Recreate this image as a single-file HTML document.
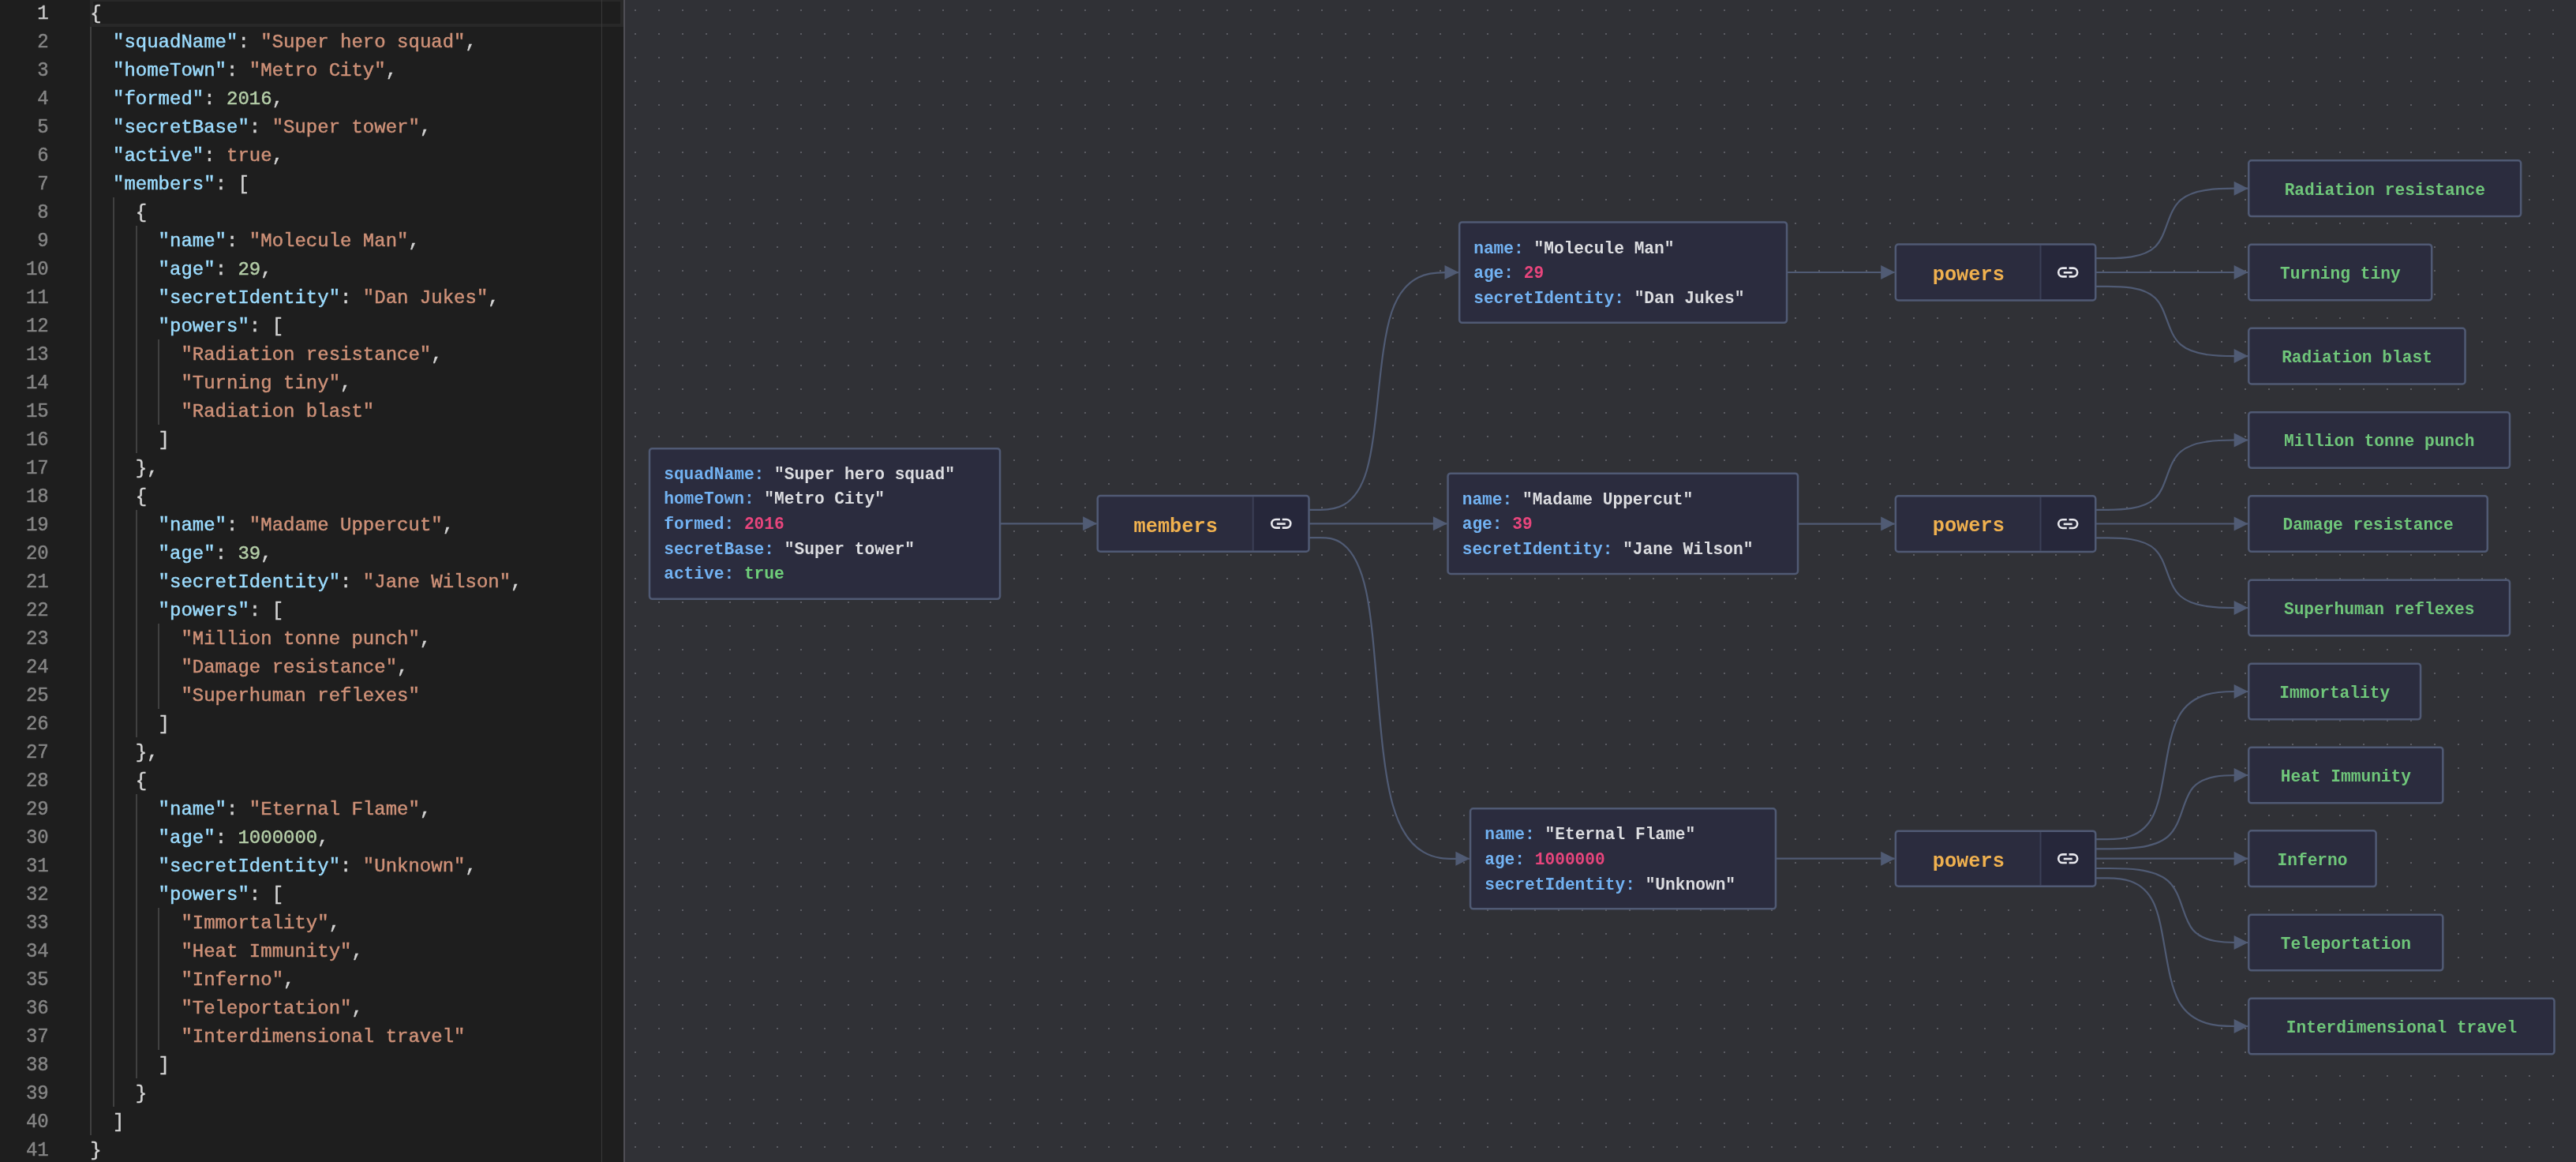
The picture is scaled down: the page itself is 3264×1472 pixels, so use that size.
<!DOCTYPE html>
<html><head><meta charset="utf-8"><style>
html,body{margin:0;padding:0;width:3264px;height:1472px;overflow:hidden;background:#303136}
#ed{will-change:transform;position:absolute;left:0;top:0;width:790px;height:1472px;background:#1e1e1e;overflow:hidden;font-family:"Liberation Mono",monospace;font-size:24px}
.ln{position:absolute;left:0;width:61.7px;-webkit-text-stroke:0.45px currentColor;height:36px;line-height:36px;text-align:right;color:#858585;transform-origin:0 24px;transform:translateY(2.2px) scaleY(1.07)}
.ln.act{color:#c6c6c6}
.cl{position:absolute;left:114.2px;-webkit-text-stroke:0.45px currentColor;height:36px;line-height:36px;white-space:pre;color:#d4d4d4;transform-origin:0 24px;transform:translateY(2.4px) scaleY(1.025)}
.cl .key{color:#9cdcfe} .cl .str{color:#ce9178} .cl .num{color:#b5cea8} .cl .bool{color:#ce9178}
.ig{position:absolute;width:2px;height:36px;background:#404040}
.cur{position:absolute;left:114px;top:-2px;width:676px;height:36px;box-sizing:border-box;border:4px solid #282828}
.vline{position:absolute;left:762px;top:0;width:1px;height:1472px;background:#383838}
#div{position:absolute;left:790px;top:0;width:2px;height:1472px;background:#4f4e55}
#gr{position:absolute;left:792px;top:0;width:2472px;height:1472px;background-color:#303136;
background-image:radial-gradient(circle at 1px 1px,#5a5b62 1px,transparent 1.2px);background-size:30px 30px;background-position:12px 12px}
.edges{position:absolute;left:792px;top:0}
#gt{position:absolute;left:0;top:0;width:3264px;height:1472px;will-change:transform}
.otxt{position:absolute;font-family:"Liberation Mono",monospace;font-size:21.2px;font-weight:bold}
.row{height:31.65px;line-height:31.65px;white-space:pre}
.k{color:#72b2f2} .v{color:#dcdde0} .n{color:#e8457c} .b{color:#6fcf7a}
.plab{position:absolute;width:300px;height:68px;line-height:68px;text-align:center;color:#f0b14f;font-family:"Liberation Mono",monospace;font-weight:bold;font-size:25.3px}
.ltxt{position:absolute;width:600px;height:30px;line-height:30px;text-align:center;color:#6fc67a;white-space:pre;font-family:"Liberation Mono",monospace;font-weight:bold;font-size:21.2px}
</style></head><body>
<div id="ed">
<div class="cur"></div>
<div class="ln act" style="top:-2px">1</div>
<div class="cl" style="top:-2px"><span class="p">{</span></div>
<div class="ln" style="top:34px">2</div>
<div class="cl" style="top:34px">  <span class="key">&quot;squadName&quot;</span><span class="p">:</span><span class="p"> </span><span class="str">&quot;Super hero squad&quot;</span><span class="p">,</span></div>
<div class="ig" style="left:114.0px;top:34px"></div>
<div class="ln" style="top:70px">3</div>
<div class="cl" style="top:70px">  <span class="key">&quot;homeTown&quot;</span><span class="p">:</span><span class="p"> </span><span class="str">&quot;Metro City&quot;</span><span class="p">,</span></div>
<div class="ig" style="left:114.0px;top:70px"></div>
<div class="ln" style="top:106px">4</div>
<div class="cl" style="top:106px">  <span class="key">&quot;formed&quot;</span><span class="p">:</span><span class="p"> </span><span class="num">2016</span><span class="p">,</span></div>
<div class="ig" style="left:114.0px;top:106px"></div>
<div class="ln" style="top:142px">5</div>
<div class="cl" style="top:142px">  <span class="key">&quot;secretBase&quot;</span><span class="p">:</span><span class="p"> </span><span class="str">&quot;Super tower&quot;</span><span class="p">,</span></div>
<div class="ig" style="left:114.0px;top:142px"></div>
<div class="ln" style="top:178px">6</div>
<div class="cl" style="top:178px">  <span class="key">&quot;active&quot;</span><span class="p">:</span><span class="p"> </span><span class="bool">true</span><span class="p">,</span></div>
<div class="ig" style="left:114.0px;top:178px"></div>
<div class="ln" style="top:214px">7</div>
<div class="cl" style="top:214px">  <span class="key">&quot;members&quot;</span><span class="p">:</span><span class="p"> </span><span class="p">[</span></div>
<div class="ig" style="left:114.0px;top:214px"></div>
<div class="ln" style="top:250px">8</div>
<div class="cl" style="top:250px">    <span class="p">{</span></div>
<div class="ig" style="left:114.0px;top:250px"></div>
<div class="ig" style="left:142.8px;top:250px"></div>
<div class="ln" style="top:286px">9</div>
<div class="cl" style="top:286px">      <span class="key">&quot;name&quot;</span><span class="p">:</span><span class="p"> </span><span class="str">&quot;Molecule Man&quot;</span><span class="p">,</span></div>
<div class="ig" style="left:114.0px;top:286px"></div>
<div class="ig" style="left:142.8px;top:286px"></div>
<div class="ig" style="left:171.6px;top:286px"></div>
<div class="ln" style="top:322px">10</div>
<div class="cl" style="top:322px">      <span class="key">&quot;age&quot;</span><span class="p">:</span><span class="p"> </span><span class="num">29</span><span class="p">,</span></div>
<div class="ig" style="left:114.0px;top:322px"></div>
<div class="ig" style="left:142.8px;top:322px"></div>
<div class="ig" style="left:171.6px;top:322px"></div>
<div class="ln" style="top:358px">11</div>
<div class="cl" style="top:358px">      <span class="key">&quot;secretIdentity&quot;</span><span class="p">:</span><span class="p"> </span><span class="str">&quot;Dan Jukes&quot;</span><span class="p">,</span></div>
<div class="ig" style="left:114.0px;top:358px"></div>
<div class="ig" style="left:142.8px;top:358px"></div>
<div class="ig" style="left:171.6px;top:358px"></div>
<div class="ln" style="top:394px">12</div>
<div class="cl" style="top:394px">      <span class="key">&quot;powers&quot;</span><span class="p">:</span><span class="p"> </span><span class="p">[</span></div>
<div class="ig" style="left:114.0px;top:394px"></div>
<div class="ig" style="left:142.8px;top:394px"></div>
<div class="ig" style="left:171.6px;top:394px"></div>
<div class="ln" style="top:430px">13</div>
<div class="cl" style="top:430px">        <span class="str">&quot;Radiation resistance&quot;</span><span class="p">,</span></div>
<div class="ig" style="left:114.0px;top:430px"></div>
<div class="ig" style="left:142.8px;top:430px"></div>
<div class="ig" style="left:171.6px;top:430px"></div>
<div class="ig" style="left:200.4px;top:430px"></div>
<div class="ln" style="top:466px">14</div>
<div class="cl" style="top:466px">        <span class="str">&quot;Turning tiny&quot;</span><span class="p">,</span></div>
<div class="ig" style="left:114.0px;top:466px"></div>
<div class="ig" style="left:142.8px;top:466px"></div>
<div class="ig" style="left:171.6px;top:466px"></div>
<div class="ig" style="left:200.4px;top:466px"></div>
<div class="ln" style="top:502px">15</div>
<div class="cl" style="top:502px">        <span class="str">&quot;Radiation blast&quot;</span></div>
<div class="ig" style="left:114.0px;top:502px"></div>
<div class="ig" style="left:142.8px;top:502px"></div>
<div class="ig" style="left:171.6px;top:502px"></div>
<div class="ig" style="left:200.4px;top:502px"></div>
<div class="ln" style="top:538px">16</div>
<div class="cl" style="top:538px">      <span class="p">]</span></div>
<div class="ig" style="left:114.0px;top:538px"></div>
<div class="ig" style="left:142.8px;top:538px"></div>
<div class="ig" style="left:171.6px;top:538px"></div>
<div class="ln" style="top:574px">17</div>
<div class="cl" style="top:574px">    <span class="p">}</span><span class="p">,</span></div>
<div class="ig" style="left:114.0px;top:574px"></div>
<div class="ig" style="left:142.8px;top:574px"></div>
<div class="ln" style="top:610px">18</div>
<div class="cl" style="top:610px">    <span class="p">{</span></div>
<div class="ig" style="left:114.0px;top:610px"></div>
<div class="ig" style="left:142.8px;top:610px"></div>
<div class="ln" style="top:646px">19</div>
<div class="cl" style="top:646px">      <span class="key">&quot;name&quot;</span><span class="p">:</span><span class="p"> </span><span class="str">&quot;Madame Uppercut&quot;</span><span class="p">,</span></div>
<div class="ig" style="left:114.0px;top:646px"></div>
<div class="ig" style="left:142.8px;top:646px"></div>
<div class="ig" style="left:171.6px;top:646px"></div>
<div class="ln" style="top:682px">20</div>
<div class="cl" style="top:682px">      <span class="key">&quot;age&quot;</span><span class="p">:</span><span class="p"> </span><span class="num">39</span><span class="p">,</span></div>
<div class="ig" style="left:114.0px;top:682px"></div>
<div class="ig" style="left:142.8px;top:682px"></div>
<div class="ig" style="left:171.6px;top:682px"></div>
<div class="ln" style="top:718px">21</div>
<div class="cl" style="top:718px">      <span class="key">&quot;secretIdentity&quot;</span><span class="p">:</span><span class="p"> </span><span class="str">&quot;Jane Wilson&quot;</span><span class="p">,</span></div>
<div class="ig" style="left:114.0px;top:718px"></div>
<div class="ig" style="left:142.8px;top:718px"></div>
<div class="ig" style="left:171.6px;top:718px"></div>
<div class="ln" style="top:754px">22</div>
<div class="cl" style="top:754px">      <span class="key">&quot;powers&quot;</span><span class="p">:</span><span class="p"> </span><span class="p">[</span></div>
<div class="ig" style="left:114.0px;top:754px"></div>
<div class="ig" style="left:142.8px;top:754px"></div>
<div class="ig" style="left:171.6px;top:754px"></div>
<div class="ln" style="top:790px">23</div>
<div class="cl" style="top:790px">        <span class="str">&quot;Million tonne punch&quot;</span><span class="p">,</span></div>
<div class="ig" style="left:114.0px;top:790px"></div>
<div class="ig" style="left:142.8px;top:790px"></div>
<div class="ig" style="left:171.6px;top:790px"></div>
<div class="ig" style="left:200.4px;top:790px"></div>
<div class="ln" style="top:826px">24</div>
<div class="cl" style="top:826px">        <span class="str">&quot;Damage resistance&quot;</span><span class="p">,</span></div>
<div class="ig" style="left:114.0px;top:826px"></div>
<div class="ig" style="left:142.8px;top:826px"></div>
<div class="ig" style="left:171.6px;top:826px"></div>
<div class="ig" style="left:200.4px;top:826px"></div>
<div class="ln" style="top:862px">25</div>
<div class="cl" style="top:862px">        <span class="str">&quot;Superhuman reflexes&quot;</span></div>
<div class="ig" style="left:114.0px;top:862px"></div>
<div class="ig" style="left:142.8px;top:862px"></div>
<div class="ig" style="left:171.6px;top:862px"></div>
<div class="ig" style="left:200.4px;top:862px"></div>
<div class="ln" style="top:898px">26</div>
<div class="cl" style="top:898px">      <span class="p">]</span></div>
<div class="ig" style="left:114.0px;top:898px"></div>
<div class="ig" style="left:142.8px;top:898px"></div>
<div class="ig" style="left:171.6px;top:898px"></div>
<div class="ln" style="top:934px">27</div>
<div class="cl" style="top:934px">    <span class="p">}</span><span class="p">,</span></div>
<div class="ig" style="left:114.0px;top:934px"></div>
<div class="ig" style="left:142.8px;top:934px"></div>
<div class="ln" style="top:970px">28</div>
<div class="cl" style="top:970px">    <span class="p">{</span></div>
<div class="ig" style="left:114.0px;top:970px"></div>
<div class="ig" style="left:142.8px;top:970px"></div>
<div class="ln" style="top:1006px">29</div>
<div class="cl" style="top:1006px">      <span class="key">&quot;name&quot;</span><span class="p">:</span><span class="p"> </span><span class="str">&quot;Eternal Flame&quot;</span><span class="p">,</span></div>
<div class="ig" style="left:114.0px;top:1006px"></div>
<div class="ig" style="left:142.8px;top:1006px"></div>
<div class="ig" style="left:171.6px;top:1006px"></div>
<div class="ln" style="top:1042px">30</div>
<div class="cl" style="top:1042px">      <span class="key">&quot;age&quot;</span><span class="p">:</span><span class="p"> </span><span class="num">1000000</span><span class="p">,</span></div>
<div class="ig" style="left:114.0px;top:1042px"></div>
<div class="ig" style="left:142.8px;top:1042px"></div>
<div class="ig" style="left:171.6px;top:1042px"></div>
<div class="ln" style="top:1078px">31</div>
<div class="cl" style="top:1078px">      <span class="key">&quot;secretIdentity&quot;</span><span class="p">:</span><span class="p"> </span><span class="str">&quot;Unknown&quot;</span><span class="p">,</span></div>
<div class="ig" style="left:114.0px;top:1078px"></div>
<div class="ig" style="left:142.8px;top:1078px"></div>
<div class="ig" style="left:171.6px;top:1078px"></div>
<div class="ln" style="top:1114px">32</div>
<div class="cl" style="top:1114px">      <span class="key">&quot;powers&quot;</span><span class="p">:</span><span class="p"> </span><span class="p">[</span></div>
<div class="ig" style="left:114.0px;top:1114px"></div>
<div class="ig" style="left:142.8px;top:1114px"></div>
<div class="ig" style="left:171.6px;top:1114px"></div>
<div class="ln" style="top:1150px">33</div>
<div class="cl" style="top:1150px">        <span class="str">&quot;Immortality&quot;</span><span class="p">,</span></div>
<div class="ig" style="left:114.0px;top:1150px"></div>
<div class="ig" style="left:142.8px;top:1150px"></div>
<div class="ig" style="left:171.6px;top:1150px"></div>
<div class="ig" style="left:200.4px;top:1150px"></div>
<div class="ln" style="top:1186px">34</div>
<div class="cl" style="top:1186px">        <span class="str">&quot;Heat Immunity&quot;</span><span class="p">,</span></div>
<div class="ig" style="left:114.0px;top:1186px"></div>
<div class="ig" style="left:142.8px;top:1186px"></div>
<div class="ig" style="left:171.6px;top:1186px"></div>
<div class="ig" style="left:200.4px;top:1186px"></div>
<div class="ln" style="top:1222px">35</div>
<div class="cl" style="top:1222px">        <span class="str">&quot;Inferno&quot;</span><span class="p">,</span></div>
<div class="ig" style="left:114.0px;top:1222px"></div>
<div class="ig" style="left:142.8px;top:1222px"></div>
<div class="ig" style="left:171.6px;top:1222px"></div>
<div class="ig" style="left:200.4px;top:1222px"></div>
<div class="ln" style="top:1258px">36</div>
<div class="cl" style="top:1258px">        <span class="str">&quot;Teleportation&quot;</span><span class="p">,</span></div>
<div class="ig" style="left:114.0px;top:1258px"></div>
<div class="ig" style="left:142.8px;top:1258px"></div>
<div class="ig" style="left:171.6px;top:1258px"></div>
<div class="ig" style="left:200.4px;top:1258px"></div>
<div class="ln" style="top:1294px">37</div>
<div class="cl" style="top:1294px">        <span class="str">&quot;Interdimensional travel&quot;</span></div>
<div class="ig" style="left:114.0px;top:1294px"></div>
<div class="ig" style="left:142.8px;top:1294px"></div>
<div class="ig" style="left:171.6px;top:1294px"></div>
<div class="ig" style="left:200.4px;top:1294px"></div>
<div class="ln" style="top:1330px">38</div>
<div class="cl" style="top:1330px">      <span class="p">]</span></div>
<div class="ig" style="left:114.0px;top:1330px"></div>
<div class="ig" style="left:142.8px;top:1330px"></div>
<div class="ig" style="left:171.6px;top:1330px"></div>
<div class="ln" style="top:1366px">39</div>
<div class="cl" style="top:1366px">    <span class="p">}</span></div>
<div class="ig" style="left:114.0px;top:1366px"></div>
<div class="ig" style="left:142.8px;top:1366px"></div>
<div class="ln" style="top:1402px">40</div>
<div class="cl" style="top:1402px">  <span class="p">]</span></div>
<div class="ig" style="left:114.0px;top:1402px"></div>
<div class="ln" style="top:1438px">41</div>
<div class="cl" style="top:1438px"><span class="p">}</span></div>
<div class="vline"></div>
</div>
<div id="div"></div>
<div id="gr"></div>
<svg class="edges" width="2472" height="1472" viewBox="792 0 2472 1472"><g fill="none" stroke="#505b74" stroke-width="2.2"><path d="M1267.00 663.30 L1389.50 663.30"/><path d="M1658.50 645.80 L1673.17 645.80 C1687.83 645.80 1717.17 645.80 1731.83 595.69 C1746.50 545.58 1746.50 445.37 1763.40 395.26 C1780.30 345.15 1814.10 345.15 1831.00 345.15 L1847.90 345.15"/><path d="M1658.50 663.30 L1833.30 663.30"/><path d="M1658.50 681.10 L1673.00 681.10 C1687.50 681.10 1716.50 681.10 1731.00 748.89 C1745.50 816.68 1745.50 952.27 1764.88 1020.06 C1784.27 1087.85 1823.03 1087.85 1842.42 1087.85 L1861.80 1087.85"/><path d="M2264.30 345.00 L2400.60 345.00"/><path d="M2278.30 663.60 L2400.60 663.60"/><path d="M2250.20 1087.70 L2400.60 1087.70"/><path d="M2655.30 327.20 L2670.42 327.20 C2685.53 327.20 2715.77 327.20 2730.88 312.45 C2746.00 297.70 2746.00 268.20 2763.00 253.45 C2780.00 238.70 2814.00 238.70 2831.00 238.70 L2848.00 238.70"/><path d="M2655.30 345.00 L2848.00 345.00"/><path d="M2655.30 362.80 L2670.42 362.80 C2685.53 362.80 2715.77 362.80 2730.88 377.52 C2746.00 392.23 2746.00 421.67 2763.00 436.38 C2780.00 451.10 2814.00 451.10 2831.00 451.10 L2848.00 451.10"/><path d="M2655.30 645.80 L2670.42 645.80 C2685.53 645.80 2715.77 645.80 2730.88 631.08 C2746.00 616.37 2746.00 586.93 2763.00 572.22 C2780.00 557.50 2814.00 557.50 2831.00 557.50 L2848.00 557.50"/><path d="M2655.30 663.50 L2848.00 663.50"/><path d="M2655.30 681.40 L2670.42 681.40 C2685.53 681.40 2715.77 681.40 2730.88 696.17 C2746.00 710.93 2746.00 740.47 2763.00 755.23 C2780.00 770.00 2814.00 770.00 2831.00 770.00 L2848.00 770.00"/><path d="M2655.30 1063.10 L2670.00 1063.10 C2684.70 1063.10 2714.10 1063.10 2728.80 1031.92 C2743.50 1000.73 2743.50 938.37 2760.92 907.18 C2778.33 876.00 2813.17 876.00 2830.58 876.00 L2848.00 876.00"/><path d="M2655.30 1075.40 L2673.58 1075.40 C2691.87 1075.40 2728.43 1075.40 2746.72 1059.83 C2765.00 1044.27 2765.00 1013.13 2778.83 997.57 C2792.67 982.00 2820.33 982.00 2834.17 982.00 L2848.00 982.00"/><path d="M2655.30 1087.70 L2848.00 1087.70"/><path d="M2655.30 1100.00 L2673.58 1100.00 C2691.87 1100.00 2728.43 1100.00 2746.72 1115.67 C2765.00 1131.33 2765.00 1162.67 2778.83 1178.33 C2792.67 1194.00 2820.33 1194.00 2834.17 1194.00 L2848.00 1194.00"/><path d="M2655.30 1112.30 L2670.00 1112.30 C2684.70 1112.30 2714.10 1112.30 2728.80 1143.58 C2743.50 1174.87 2743.50 1237.43 2760.92 1268.72 C2778.33 1300.00 2813.17 1300.00 2830.58 1300.00 L2848.00 1300.00"/></g><g fill="#505b74"><path d="M1372.1 654.3 L1390.1 663.3 L1372.1 672.3 Z"/><path d="M1830.5 336.1 L1848.5 345.1 L1830.5 354.1 Z"/><path d="M1815.9 654.3 L1833.9 663.3 L1815.9 672.3 Z"/><path d="M1844.4 1078.8 L1862.4 1087.8 L1844.4 1096.8 Z"/><path d="M2383.2 336.0 L2401.2 345.0 L2383.2 354.0 Z"/><path d="M2383.2 654.6 L2401.2 663.6 L2383.2 672.6 Z"/><path d="M2383.2 1078.7 L2401.2 1087.7 L2383.2 1096.7 Z"/><path d="M2830.6 229.7 L2848.6 238.7 L2830.6 247.7 Z"/><path d="M2830.6 336.0 L2848.6 345.0 L2830.6 354.0 Z"/><path d="M2830.6 442.1 L2848.6 451.1 L2830.6 460.1 Z"/><path d="M2830.6 548.5 L2848.6 557.5 L2830.6 566.5 Z"/><path d="M2830.6 654.5 L2848.6 663.5 L2830.6 672.5 Z"/><path d="M2830.6 761.0 L2848.6 770.0 L2830.6 779.0 Z"/><path d="M2830.6 867.0 L2848.6 876.0 L2830.6 885.0 Z"/><path d="M2830.6 973.0 L2848.6 982.0 L2830.6 991.0 Z"/><path d="M2830.6 1078.7 L2848.6 1087.7 L2830.6 1096.7 Z"/><path d="M2830.6 1185.0 L2848.6 1194.0 L2830.6 1203.0 Z"/><path d="M2830.6 1291.0 L2848.6 1300.0 L2830.6 1309.0 Z"/></g><rect x="822.95" y="568.15" width="444.10" height="190.70" rx="3.5" fill="#2b2c3e"/><rect x="822.95" y="568.15" width="444.10" height="190.70" rx="3.5" fill="none" stroke="#505a74" stroke-width="2.5"/><rect x="1390.75" y="628.05" width="267.80" height="70.70" rx="3.5" fill="#2b2c3e"/><rect x="1587.70" y="629.30" width="69.60" height="68.20" fill="#26273a"/><line x1="1587.70" y1="629.30" x2="1587.70" y2="697.50" stroke="#3b3f56" stroke-width="2"/><g transform="translate(1623.3 663.3)" fill="none" stroke="#e9e9ee" stroke-width="2.6"><path d="M-1.4 -5.35 H-6.65 A5.35 5.35 0 0 0 -6.65 5.35 H-1.4 M1.4 -5.35 H6.65 A5.35 5.35 0 0 1 6.65 5.35 H1.4"/><path d="M-5.5 0.3 H5.5"/></g><rect x="1390.75" y="628.05" width="267.80" height="70.70" rx="3.5" fill="none" stroke="#505a74" stroke-width="2.5"/><rect x="1849.15" y="281.45" width="414.90" height="127.40" rx="3.5" fill="#2b2c3e"/><rect x="1849.15" y="281.45" width="414.90" height="127.40" rx="3.5" fill="none" stroke="#505a74" stroke-width="2.5"/><rect x="1834.55" y="599.65" width="443.50" height="127.30" rx="3.5" fill="#2b2c3e"/><rect x="1834.55" y="599.65" width="443.50" height="127.30" rx="3.5" fill="none" stroke="#505a74" stroke-width="2.5"/><rect x="1863.05" y="1024.35" width="386.90" height="127.00" rx="3.5" fill="#2b2c3e"/><rect x="1863.05" y="1024.35" width="386.90" height="127.00" rx="3.5" fill="none" stroke="#505a74" stroke-width="2.5"/><rect x="2401.85" y="309.55" width="253.40" height="70.90" rx="3.5" fill="#2b2c3e"/><rect x="2585.50" y="310.80" width="68.50" height="68.40" fill="#26273a"/><line x1="2585.50" y1="310.80" x2="2585.50" y2="379.20" stroke="#3b3f56" stroke-width="2"/><g transform="translate(2620.2 345.0)" fill="none" stroke="#e9e9ee" stroke-width="2.6"><path d="M-1.4 -5.35 H-6.65 A5.35 5.35 0 0 0 -6.65 5.35 H-1.4 M1.4 -5.35 H6.65 A5.35 5.35 0 0 1 6.65 5.35 H1.4"/><path d="M-5.5 0.3 H5.5"/></g><rect x="2401.85" y="309.55" width="253.40" height="70.90" rx="3.5" fill="none" stroke="#505a74" stroke-width="2.5"/><rect x="2401.85" y="628.25" width="253.40" height="70.70" rx="3.5" fill="#2b2c3e"/><rect x="2585.50" y="629.50" width="68.50" height="68.20" fill="#26273a"/><line x1="2585.50" y1="629.50" x2="2585.50" y2="697.70" stroke="#3b3f56" stroke-width="2"/><g transform="translate(2620.2 663.6)" fill="none" stroke="#e9e9ee" stroke-width="2.6"><path d="M-1.4 -5.35 H-6.65 A5.35 5.35 0 0 0 -6.65 5.35 H-1.4 M1.4 -5.35 H6.65 A5.35 5.35 0 0 1 6.65 5.35 H1.4"/><path d="M-5.5 0.3 H5.5"/></g><rect x="2401.85" y="628.25" width="253.40" height="70.70" rx="3.5" fill="none" stroke="#505a74" stroke-width="2.5"/><rect x="2401.85" y="1052.65" width="253.40" height="70.10" rx="3.5" fill="#2b2c3e"/><rect x="2585.50" y="1053.90" width="68.50" height="67.60" fill="#26273a"/><line x1="2585.50" y1="1053.90" x2="2585.50" y2="1121.50" stroke="#3b3f56" stroke-width="2"/><g transform="translate(2620.2 1087.7)" fill="none" stroke="#e9e9ee" stroke-width="2.6"><path d="M-1.4 -5.35 H-6.65 A5.35 5.35 0 0 0 -6.65 5.35 H-1.4 M1.4 -5.35 H6.65 A5.35 5.35 0 0 1 6.65 5.35 H1.4"/><path d="M-5.5 0.3 H5.5"/></g><rect x="2401.85" y="1052.65" width="253.40" height="70.10" rx="3.5" fill="none" stroke="#505a74" stroke-width="2.5"/><rect x="2849.25" y="203.35" width="344.90" height="70.70" rx="3.5" fill="#2b2c3e"/><rect x="2849.25" y="203.35" width="344.90" height="70.70" rx="3.5" fill="none" stroke="#505a74" stroke-width="2.5"/><rect x="2849.25" y="309.65" width="231.94" height="70.70" rx="3.5" fill="#2b2c3e"/><rect x="2849.25" y="309.65" width="231.94" height="70.70" rx="3.5" fill="none" stroke="#505a74" stroke-width="2.5"/><rect x="2849.25" y="415.75" width="274.30" height="70.70" rx="3.5" fill="#2b2c3e"/><rect x="2849.25" y="415.75" width="274.30" height="70.70" rx="3.5" fill="none" stroke="#505a74" stroke-width="2.5"/><rect x="2849.25" y="522.15" width="330.78" height="70.70" rx="3.5" fill="#2b2c3e"/><rect x="2849.25" y="522.15" width="330.78" height="70.70" rx="3.5" fill="none" stroke="#505a74" stroke-width="2.5"/><rect x="2849.25" y="628.15" width="302.54" height="70.70" rx="3.5" fill="#2b2c3e"/><rect x="2849.25" y="628.15" width="302.54" height="70.70" rx="3.5" fill="none" stroke="#505a74" stroke-width="2.5"/><rect x="2849.25" y="734.65" width="330.78" height="70.70" rx="3.5" fill="#2b2c3e"/><rect x="2849.25" y="734.65" width="330.78" height="70.70" rx="3.5" fill="none" stroke="#505a74" stroke-width="2.5"/><rect x="2849.25" y="840.65" width="217.82" height="70.70" rx="3.5" fill="#2b2c3e"/><rect x="2849.25" y="840.65" width="217.82" height="70.70" rx="3.5" fill="none" stroke="#505a74" stroke-width="2.5"/><rect x="2849.25" y="946.65" width="246.06" height="70.70" rx="3.5" fill="#2b2c3e"/><rect x="2849.25" y="946.65" width="246.06" height="70.70" rx="3.5" fill="none" stroke="#505a74" stroke-width="2.5"/><rect x="2849.25" y="1052.35" width="161.34" height="70.70" rx="3.5" fill="#2b2c3e"/><rect x="2849.25" y="1052.35" width="161.34" height="70.70" rx="3.5" fill="none" stroke="#505a74" stroke-width="2.5"/><rect x="2849.25" y="1158.65" width="246.06" height="70.70" rx="3.5" fill="#2b2c3e"/><rect x="2849.25" y="1158.65" width="246.06" height="70.70" rx="3.5" fill="none" stroke="#505a74" stroke-width="2.5"/><rect x="2849.25" y="1264.65" width="387.26" height="70.70" rx="3.5" fill="#2b2c3e"/><rect x="2849.25" y="1264.65" width="387.26" height="70.70" rx="3.5" fill="none" stroke="#505a74" stroke-width="2.5"/></svg>
<div id="gt"><div class="otxt" style="left:841.2px;top:585.85px"><div class="row"><span class="k">squadName: </span><span class="v">&quot;Super hero squad&quot;</span></div><div class="row"><span class="k">homeTown: </span><span class="v">&quot;Metro City&quot;</span></div><div class="row"><span class="k">formed: </span><span class="n">2016</span></div><div class="row"><span class="k">secretBase: </span><span class="v">&quot;Super tower&quot;</span></div><div class="row"><span class="k">active: </span><span class="b">true</span></div></div><div class="plab" style="left:1339.70px;top:633.50px">members</div><div class="otxt" style="left:1867.2px;top:299.85px"><div class="row"><span class="k">name: </span><span class="v">&quot;Molecule Man&quot;</span></div><div class="row"><span class="k">age: </span><span class="n">29</span></div><div class="row"><span class="k">secretIdentity: </span><span class="v">&quot;Dan Jukes&quot;</span></div></div><div class="otxt" style="left:1852.7px;top:617.85px"><div class="row"><span class="k">name: </span><span class="v">&quot;Madame Uppercut&quot;</span></div><div class="row"><span class="k">age: </span><span class="n">39</span></div><div class="row"><span class="k">secretIdentity: </span><span class="v">&quot;Jane Wilson&quot;</span></div></div><div class="otxt" style="left:1881.2px;top:1042.35px"><div class="row"><span class="k">name: </span><span class="v">&quot;Eternal Flame&quot;</span></div><div class="row"><span class="k">age: </span><span class="n">1000000</span></div><div class="row"><span class="k">secretIdentity: </span><span class="v">&quot;Unknown&quot;</span></div></div><div class="plab" style="left:2344.30px;top:314.80px">powers</div><div class="plab" style="left:2344.30px;top:633.30px">powers</div><div class="plab" style="left:2344.30px;top:1057.50px">powers</div><div class="ltxt" style="left:2721.80px;top:225.60px">Radiation resistance</div><div class="ltxt" style="left:2665.32px;top:331.90px">Turning tiny</div><div class="ltxt" style="left:2686.50px;top:438.00px">Radiation blast</div><div class="ltxt" style="left:2714.74px;top:544.40px">Million tonne punch</div><div class="ltxt" style="left:2700.62px;top:650.40px">Damage resistance</div><div class="ltxt" style="left:2714.74px;top:756.90px">Superhuman reflexes</div><div class="ltxt" style="left:2658.26px;top:862.90px">Immortality</div><div class="ltxt" style="left:2672.38px;top:968.90px">Heat Immunity</div><div class="ltxt" style="left:2630.02px;top:1074.60px">Inferno</div><div class="ltxt" style="left:2672.38px;top:1180.90px">Teleportation</div><div class="ltxt" style="left:2742.98px;top:1286.90px">Interdimensional travel</div></div>
</body></html>
